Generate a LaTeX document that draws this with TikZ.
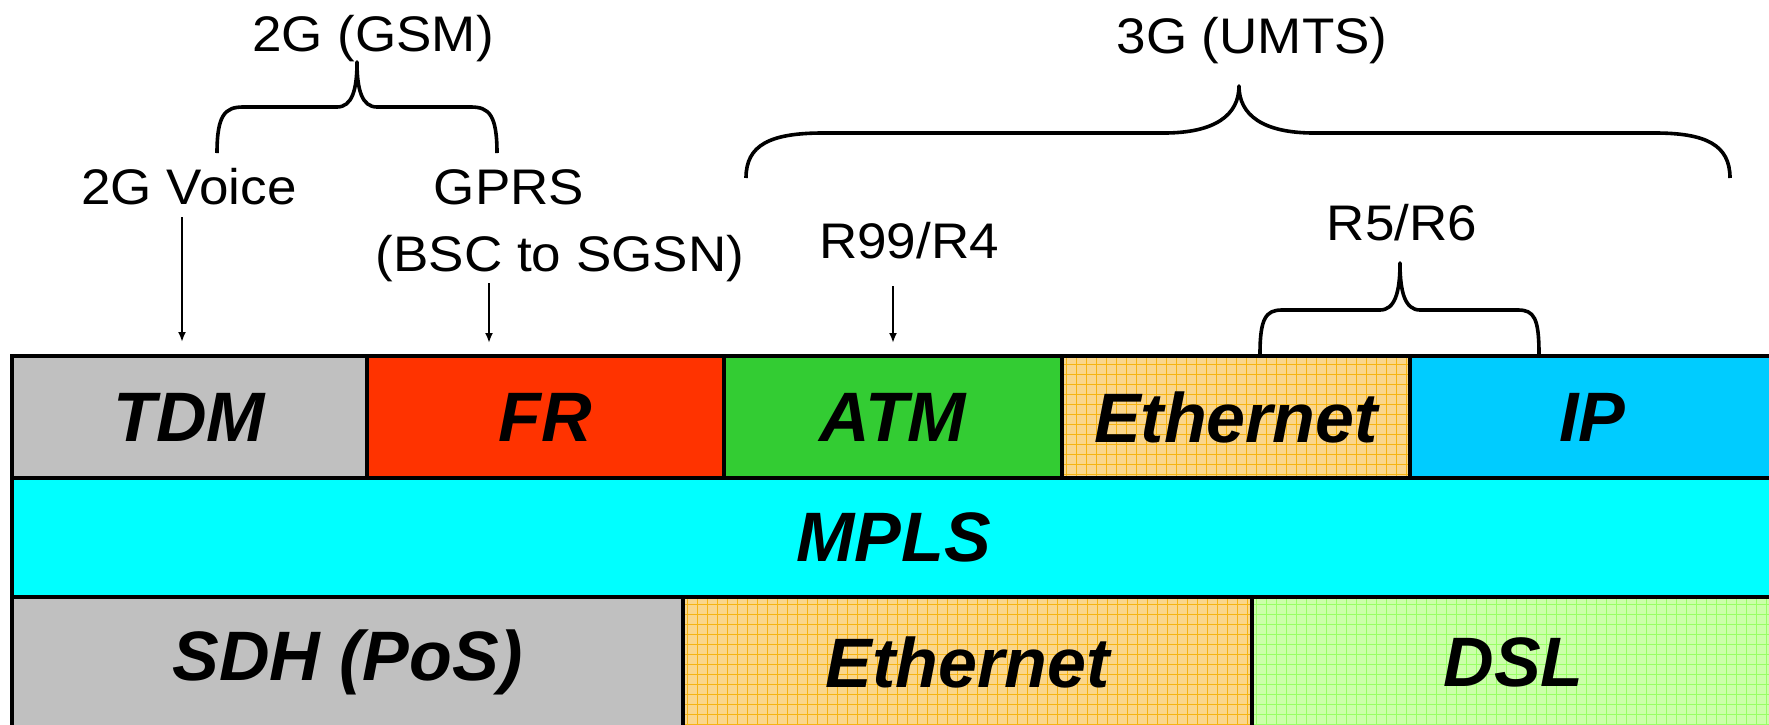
\documentclass[tikz,border=0pt]{standalone}
\usepackage{fontspec}
\setmainfont{Liberation Sans}
\newfontfamily\lblfont[FakeStretch=1.06]{Liberation Sans}
\usetikzlibrary{arrows.meta}
\definecolor{tdmgray}{HTML}{C0C0C0}
\definecolor{frred}{HTML}{FF3300}
\definecolor{atmgreen}{HTML}{33CC33}
\definecolor{ethbase}{HTML}{FAD68C}
\definecolor{ethline}{HTML}{F5B414}
\definecolor{ipblue}{HTML}{00CCFF}
\definecolor{mplscyan}{HTML}{00FFFF}
\definecolor{dslbase}{HTML}{CCFFAA}
\definecolor{dslline}{HTML}{99FF66}
\begin{document}
\begin{tikzpicture}[x=0.5pt,y=-0.5pt,
  lbl/.style={font=\lblfont\fontsize{25pt}{30pt}\selectfont, inner sep=0pt, anchor=base},
  box/.style={draw=black, line width=2pt, inner sep=0pt, outer sep=0pt, anchor=north west,
    font=\fontsize{35pt}{42pt}\selectfont\bfseries\itshape},
  toprow/.style={box, minimum height=61pt},
  midrow/.style={box, minimum height=59.5pt},
  botrow/.style={box, minimum height=65.5pt},
  gridfill/.style n args={2}{fill=#1, path picture={
    \foreach \k in {0,...,60}{
      \draw[#2, line width=0.5pt] ([xshift=\k*5pt+2pt]path picture bounding box.south west) -- ([xshift=\k*5pt+2pt]path picture bounding box.north west);
      \draw[#2, line width=0.5pt] ([yshift=\k*5pt+2pt]path picture bounding box.south west) -- ([yshift=\k*5pt+2pt]path picture bounding box.south east);
    }}},
  arr/.style={-{Latex[length=5pt,width=4pt]}, line width=1.2pt},
  brace/.style={line width=1.8pt, line join=round}
]
\useasboundingbox (0,0) rectangle (1769,724);
\clip (0,0) rectangle (1769,724);
\fill[white] (0,0) rectangle (1769,724);

% top row
\node[toprow, fill=tdmgray, minimum width=177.5pt] (tdm) at (12,356) {TDM};
\node[toprow, fill=frred, minimum width=178.5pt] (fr) at (367,356) {FR};
\node[toprow, fill=atmgreen, minimum width=169pt] (atm) at (724,356) {ATM};
\node[toprow, gridfill={ethbase}{ethline}, minimum width=174pt] (eth) at (1062,356) {Ethernet};
\node[toprow, fill=ipblue, minimum width=182.5pt] (ip) at (1410,356) {IP};
% middle row
\node[midrow, fill=mplscyan, minimum width=881.5pt] (mpls) at (12,478) {MPLS};
% bottom row
\node[botrow, fill=tdmgray, minimum width=335.5pt] (sdh) at (12,597) {SDH (PoS)};
\node[botrow, gridfill={ethbase}{ethline}, minimum width=284.5pt] (eth2) at (683,597) {Ethernet};
\node[botrow, gridfill={dslbase}{dslline}, minimum width=261.5pt] (dsl) at (1252,597) {DSL};

% labels
\node[lbl] (gsm) at (373,51) {2G (GSM)};
\node[lbl] (voice) at (189,204) {2G Voice};
\node[lbl] (gprs) at (509,204) {GPRS};
\node[lbl] (bsc) at (560,271) {(BSC to SGSN)};
\node[lbl] (umts) at (1252,53) {3G (UMTS)};
\node[lbl] (r99) at (909,258) {R99/R4};
\node[lbl] (r56) at (1402,240) {R5/R6};

% arrows
\draw[arr, shorten <=6.5pt, shorten >=7pt] ([xshift=-3.5pt]voice.base) -- ([xshift=-3.5pt]voice.base |- tdm.north);
\coordinate (gx) at (489,0);
\draw[arr, shorten <=6pt, shorten >=6.5pt] (bsc.base -| gx) -- (gx |- fr.north);
\draw[arr, shorten <=14pt, shorten >=6.5pt] (r99.base -| atm.north) -- (atm.north);

% braces
\draw[brace] (217,153) .. controls (217,115) and (225,107) .. (243,107) -- (337,107)
  .. controls (352,107) and (357,90) .. (357,62)
  .. controls (357,90) and (362,107) .. (377,107) -- (471,107)
  .. controls (489,107) and (497,115) .. (497,153);
\draw[brace] (746,178) .. controls (746,145) and (770,133) .. (823,133) -- (1164,133)
  .. controls (1215,133) and (1239,115) .. (1239,86)
  .. controls (1239,115) and (1263,133) .. (1314,133) -- (1655,133)
  .. controls (1706,133) and (1730,145) .. (1730,178);
\draw[brace] (1260,354) .. controls (1260,318) and (1266,310) .. (1282,310) -- (1380,310)
  .. controls (1395,310) and (1400,292) .. (1400,263)
  .. controls (1400,292) and (1405,310) .. (1420,310) -- (1518,310)
  .. controls (1534,310) and (1539,318) .. (1539,354);
\end{tikzpicture}
\end{document}
